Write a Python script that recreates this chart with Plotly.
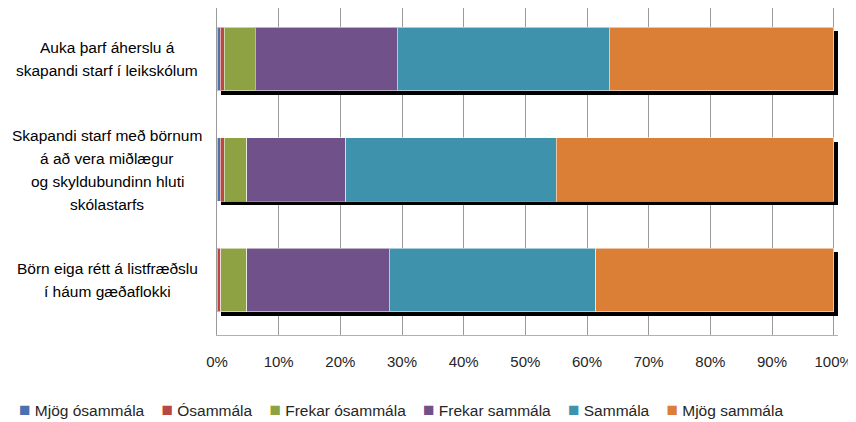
import plotly.graph_objects as go

categories = [
    "Auka þarf áherslu á<br>skapandi starf í leikskólum",
    "Skapandi starf með börnum<br>á að vera miðlægur<br>og skyldubundinn hluti<br>skólastarfs",
    "Börn eiga rétt á listfræðslu<br>í háum gæðaflokki",
]
cat_ids = ["c1", "c2", "c3"]

series_names = ["Mjög ósammála", "Ósammála", "Frekar ósammála", "Frekar sammála", "Sammála", "Mjög sammála"]
mjog_osammala = [0.5, 0.5, 0.0]
osammala = [0.7, 0.7, 0.6]
frekar_osammala = [5.0, 3.6, 4.2]
frekar_sammala = [23.0, 16.1, 23.1]
sammala = [34.4, 34.1, 33.5]
mjog_sammala = [36.4, 45.0, 38.6]
series_values = [mjog_osammala, osammala, frekar_osammala, frekar_sammala, sammala, mjog_sammala]
colors = ["#4a72b0", "#b94743", "#8ea243", "#71518a", "#3f92ab", "#da7f35"]

tick_vals = [0, 10, 20, 30, 40, 50, 60, 70, 80, 90, 100]
tick_text = ["0%", "10%", "20%", "30%", "40%", "50%", "60%", "70%", "80%", "90%", "100%"]

FONT = "Liberation Sans"
fig = go.Figure()

# shadow bars (drawn on base y axis, shifted slightly)
totals = [sum(v[i] for v in series_values) for i in range(3)]
fig.add_trace(go.Bar(
    y=cat_ids, x=totals, base=0.65, orientation="h", yaxis="y",
    marker=dict(color="black", line=dict(width=0)), width=0.575,
    showlegend=False, hoverinfo="skip",
))

for name, vals, col in zip(series_names, series_values, colors):
    fig.add_trace(go.Bar(
        y=cat_ids, x=vals, name=name, orientation="h", yaxis="y2",
        marker=dict(color=col, line=dict(color="rgba(255,255,255,0.55)", width=1)),
        width=0.575, showlegend=False,
    ))

d = 0.036      # shadow offset (category units)
top_cut = 0.036
fig.update_layout(
    width=848, height=414,
    margin=dict(l=209, r=18, t=0, b=87, autoexpand=False),
    paper_bgcolor="white", plot_bgcolor="white",
    barmode="stack",
    font=dict(family=FONT, size=15, color="#000000"),
    showlegend=False,
    xaxis=dict(range=[0, 100.7], tickvals=tick_vals, ticktext=tick_text,
               showgrid=True, gridcolor="#9a9a9a", gridwidth=1,
               showline=True, linecolor="#b0b0b0", linewidth=1,
               ticks="", ticklabelstandoff=13, zeroline=False, automargin=False,
               tickfont=dict(family=FONT, size=15, color="#262626")),
    yaxis=dict(type="category", categoryarray=cat_ids, range=[2.5 - d, -0.5 + top_cut - d],
               showticklabels=False, showgrid=False, zeroline=False, showline=False),
    yaxis2=dict(type="category", categoryarray=cat_ids, range=[2.5, -0.5 + top_cut], overlaying="y",
                showticklabels=False, showgrid=False, zeroline=False,
                showline=True, linecolor="#9a9a9a", linewidth=1),
)

# category labels
line_h = 23
for cid, label in zip(cat_ids, categories):
    lines = label.split("<br>")
    n = len(lines)
    for k, ln in enumerate(lines):
        fig.add_annotation(
            x=-0.177, xref="paper", xanchor="center",
            y=cid, yref="y2", yanchor="middle",
            yshift=((n - 1) / 2 - k) * line_h,
            text=ln, showarrow=False,
            font=dict(family=FONT, size=15.5, color="#000000"),
        )

# legend (compact, Excel-style)
sep = "&nbsp;" * 4
legend_text = sep.join(
    f'<span style="color:{c};font-size:19px">■</span>&nbsp;{n}'
    for n, c in zip(series_names, colors)
)
fig.add_annotation(
    x=-0.3225, xref="paper", xanchor="left",
    y=-0.229, yref="paper", yanchor="middle",
    text=legend_text, showarrow=False,
    font=dict(family=FONT, size=15.5, color="#262626"),
)

fig.write_html("out.html")
